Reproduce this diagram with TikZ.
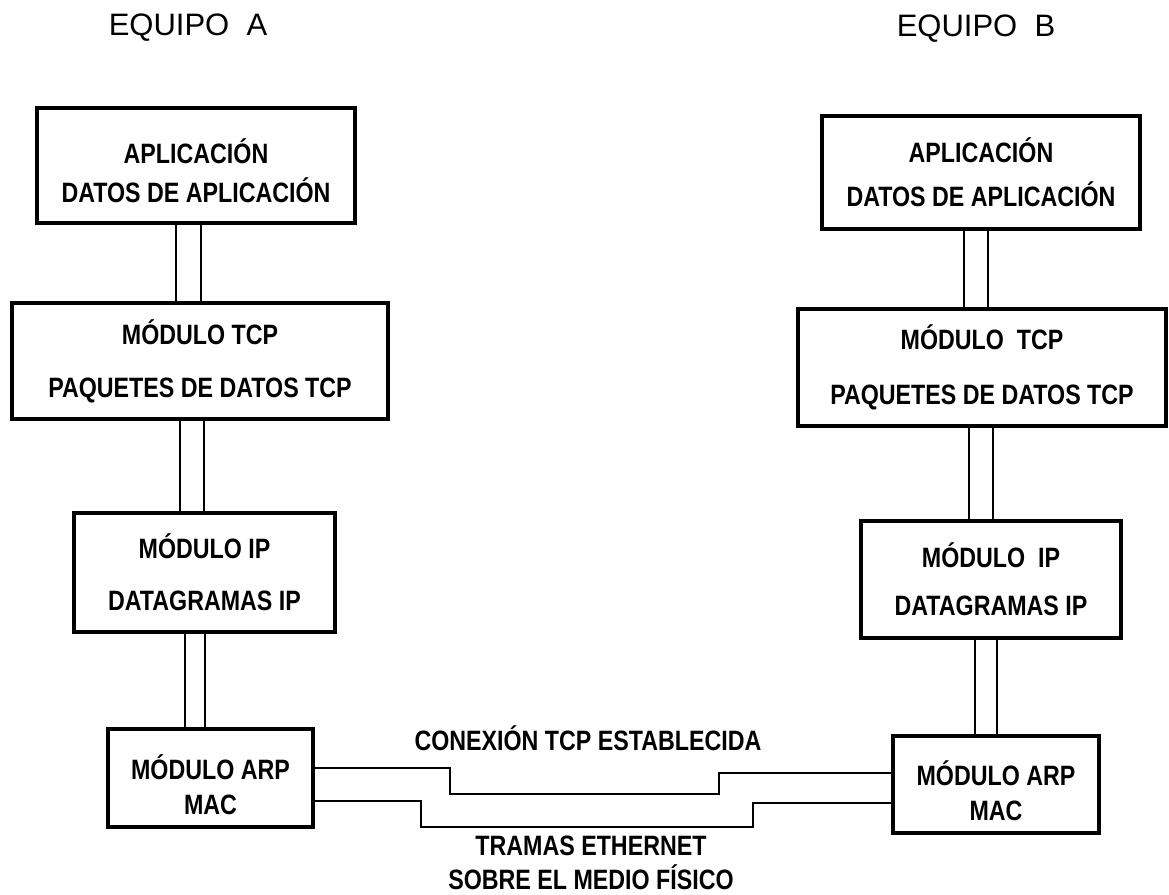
\documentclass[tikz,border=0pt]{standalone}
\usepackage{fontspec}
\setmainfont{Liberation Sans}
\newfontfamily\boxfont{Liberation Sans}[FakeStretch=0.83]
\usepackage{tikz}
\usetikzlibrary{positioning,calc}
\newcommand{\toppad}[1]{\rule{0pt}{#1}}
\tikzset{
  layerbox/.style={
    rectangle, draw=black, line width=4pt, fill=white,
    inner sep=0pt, align=center,
    font=\boxfont\bfseries\fontsize{28}{30}\selectfont,
  },
  wire/.style={
    line width=2pt, draw=black,
  },
  title/.style={
    font=\fontsize{31}{36}\selectfont,
  },
  linklabel/.style={
    align=center, inner sep=0pt,
    font=\boxfont\bfseries\fontsize{28}{30}\selectfont,
  },
}

\begin{document}
\begin{tikzpicture}[x=1pt,y=-1pt]
\useasboundingbox (0,0) rectangle (1169,894);

% titles
\node[title] (titleA) at (188,28) {EQUIPO\ \ A};
\node[title] (titleB) at (976,29) {EQUIPO\ \ B};

% equipo A
\node[layerbox, minimum width=318pt, minimum height=115pt] (appA) at (196,165.5)
  {\toppad{36pt}APLICACIÓN\\[9pt]DATOS DE APLICACIÓN};
\node[layerbox, minimum width=376pt, minimum height=116pt] (tcpA) at (200,361)
  {MÓDULO TCP\\[23pt]PAQUETES DE DATOS TCP};
\node[layerbox, minimum width=261pt, minimum height=119pt] (ipA) at (204.5,572.5)
  {MÓDULO IP\\[22pt]DATAGRAMAS IP};
\node[layerbox, minimum width=205pt, minimum height=98pt] (arpA) at (210.5,778)
  {\toppad{38pt}MÓDULO ARP\\[5pt]MAC};

% equipo B
\node[layerbox, minimum width=318pt, minimum height=113pt] (appB) at (981,172.5)
  {APLICACIÓN\\[14pt]DATOS DE APLICACIÓN};
\node[layerbox, minimum width=368pt, minimum height=117pt] (tcpB) at (982,367.5)
  {MÓDULO\ \ TCP\\[25pt]PAQUETES DE DATOS TCP};
\node[layerbox, minimum width=260pt, minimum height=117pt] (ipB) at (991,579.5)
  {MÓDULO\ \ IP\\[18pt]DATAGRAMAS IP};
\node[layerbox, minimum width=206pt, minimum height=97pt] (arpB) at (996,784.5)
  {\toppad{38pt}MÓDULO ARP\\[5pt]MAC};

% double links between layers
\foreach \dx in {-20,5}
  \draw[wire] ([xshift=\dx pt]appA.south) -- ([xshift=\dx pt]appA.south |- tcpA.north);
\foreach \dx in {-20,4}
  \draw[wire] ([xshift=\dx pt]tcpA.south) -- ([xshift=\dx pt]tcpA.south |- ipA.north);
\foreach \dx in {-19.5,0.5}
  \draw[wire] ([xshift=\dx pt]ipA.south) -- ([xshift=\dx pt]ipA.south |- arpA.north);
\foreach \dx in {-17,7}
  \draw[wire] ([xshift=\dx pt]appB.south) -- ([xshift=\dx pt]appB.south |- tcpB.north);
\foreach \dx in {-13,11}
  \draw[wire] ([xshift=\dx pt]tcpB.south) -- ([xshift=\dx pt]tcpB.south |- ipB.north);
\foreach \dx in {-16,6}
  \draw[wire] ([xshift=\dx pt]ipB.south) -- ([xshift=\dx pt]ipB.south |- arpB.north);

% links between the two machines
\draw[wire] ([yshift=10pt]arpA.east) -- ++(135,0) |- (719,794)
  |- ([yshift=11.5pt]arpB.west);
\draw[wire] ([yshift=-23pt]arpA.east) -- ++(106,0) |- (753,827)
  |- ([yshift=-18.5pt]arpB.west);

\node[linklabel] (tcpLabel) at (588,738) {CONEXIÓN TCP ESTABLECIDA};
\node[linklabel] (ethLabel) at (591,863) {TRAMAS ETHERNET\\[4pt]SOBRE EL MEDIO FÍSICO};

\end{tikzpicture}
\end{document}
